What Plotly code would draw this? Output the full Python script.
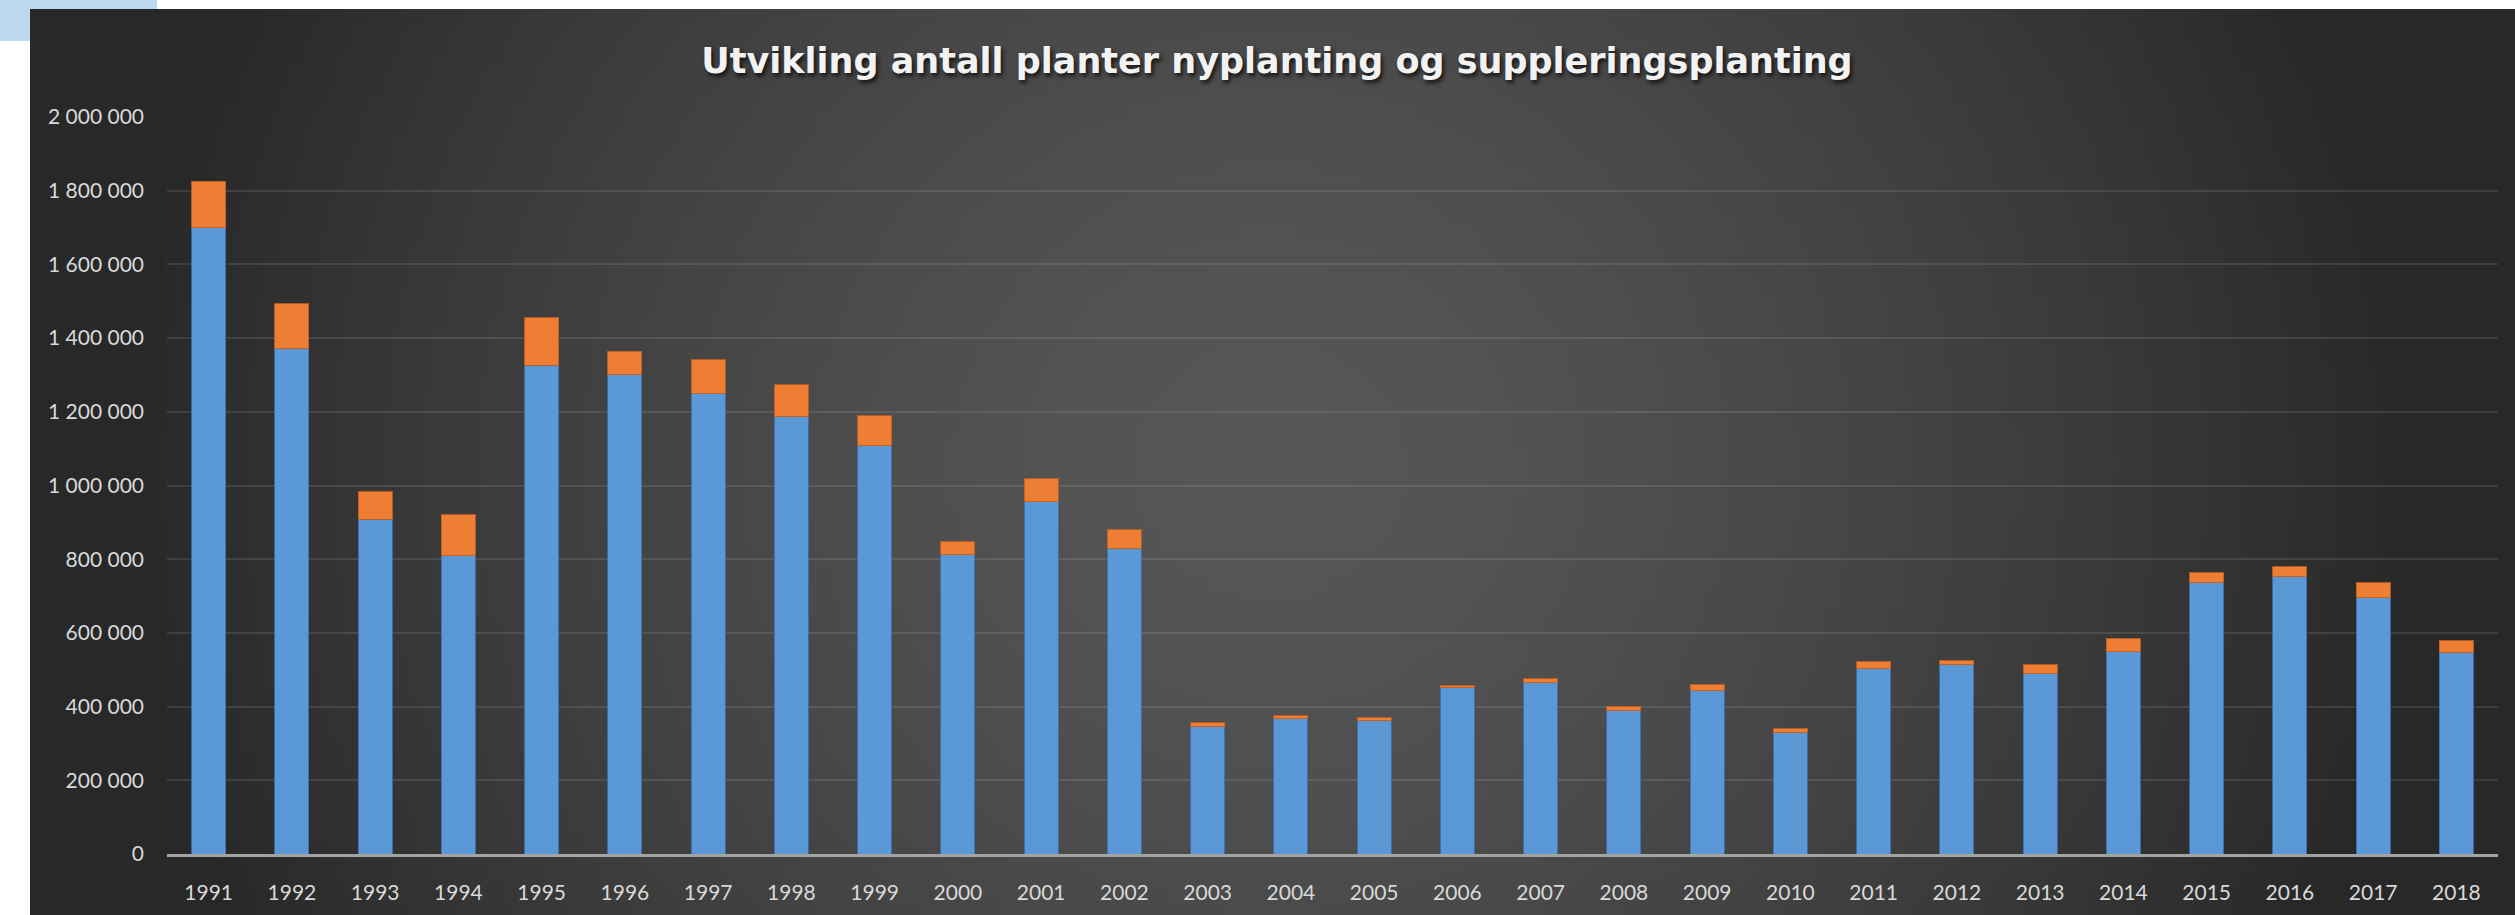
import base64
import struct
import zlib

import numpy as np
import plotly.graph_objects as go

# ---- data -------------------------------------------------------------
years = [str(y) for y in range(1991, 2019)]
nyplanting = [
    1700000, 1371000, 908000, 810000, 1327000, 1300000, 1249000, 1186000,
    1108000, 812000, 956000, 828000, 345000, 367000, 362000, 451000,
    465000, 389000, 443000, 329000, 503000, 513000, 489000, 549000,
    736000, 752000, 696000, 546000,
]
supplering = [
    126000, 122000, 75000, 110000, 128000, 65000, 92000, 87000,
    81000, 35000, 62000, 52000, 11000, 8000, 8000, 6000,
    11000, 11000, 16000, 11000, 19000, 11000, 24000, 35000,
    27000, 28000, 40000, 33000,
]
title_text = "Utvikling antall planter nyplanting og suppleringsplanting"

# ---- canvas geometry (pixels) ------------------------------------------
W, H = 2515, 915
PL, PR, PT, PB = 167, 17, 117, 61          # plot-area margins
PW, PH = W - PL - PR, H - PT - PB


def px_x(x):
    return (x - PL) / PW


def px_y(y):
    return (H - PB - y) / PH


# ---- radial gradient backdrop as an inline PNG --------------------------
def png_uri(rgb):
    h, w, _ = rgb.shape
    raw = b"".join(b"\x00" + rgb[r].tobytes() for r in range(h))

    def chunk(tag, data):
        c = struct.pack(">I", len(data)) + tag + data
        return c + struct.pack(">I", zlib.crc32(tag + data) & 0xFFFFFFFF)

    png = (b"\x89PNG\r\n\x1a\n"
           + chunk(b"IHDR", struct.pack(">IIBBBBB", w, h, 8, 2, 0, 0, 0))
           + chunk(b"IDAT", zlib.compress(raw, 9))
           + chunk(b"IEND", b""))
    return "data:image/png;base64," + base64.b64encode(png).decode()


BX0, BY0, BX1, BY1 = 30, 9, W, H            # dark chart area
gw, gh = 250, 90
xs = BX0 + (np.arange(gw) + 0.5) * (BX1 - BX0) / gw
ys = BY0 + (np.arange(gh) + 0.5) * (BY1 - BY0) / gh
gx, gy = np.meshgrid(xs, ys)
d = np.sqrt(((gx - 1270) / 1150) ** 2 + ((gy - 470) / 1100) ** 2)
f = np.clip(1 - np.clip(d, 0, 1) ** 1.5, 0, 1)
lum = 40 + (87 - 40) * f
bg = np.clip(np.stack([lum, lum, lum], axis=-1), 0, 255).astype(np.uint8)

fig = go.Figure()

fig.add_trace(go.Bar(
    x=years, y=nyplanting, name="Nyplanting",
    marker=dict(color="#5a99d6", line=dict(color="rgba(60,110,170,0.9)", width=1)),
))
fig.add_trace(go.Bar(
    x=years, y=supplering, name="Suppleringsplanting",
    marker=dict(color="#ee7e33", line=dict(color="rgba(190,95,35,0.9)", width=1)),
))

fig.update_layout(
    width=W, height=H,
    barmode="stack",
    bargap=0.59,
    showlegend=False,
    separators=", ",
    paper_bgcolor="white",
    plot_bgcolor="rgba(0,0,0,0)",
    margin=dict(l=PL, r=PR, t=PT, b=PB, pad=0),
    title=dict(
        text=title_text,
        xref="container", x=1277 / W, xanchor="center",
        yref="container", y=1 - 61 / H, yanchor="middle",
        font=dict(family="DejaVu Sans", size=35, color="#f2f2f2", weight=700,
                  shadow="2px 3px 4px rgba(0,0,0,0.75)"),
    ),
    images=[dict(
        source=png_uri(bg), xref="paper", yref="paper",
        x=px_x(BX0), y=px_y(BY0),
        sizex=px_x(BX1) - px_x(BX0), sizey=px_y(BY0) - px_y(BY1),
        xanchor="left", yanchor="top", sizing="stretch", layer="below",
    )],
    shapes=[dict(
        type="path", xref="paper", yref="paper", layer="below",
        path=("M {a},{b} L {c},{b} L {c},{d} L {e},{d} L {e},{f} L {a},{f} Z"
              .format(a=px_x(0), b=px_y(0), c=px_x(157), d=px_y(BY0),
                      e=px_x(BX0), f=px_y(41))),
        fillcolor="#bdd7ee", line=dict(width=0),
    )],
)

fig.update_xaxes(
    type="category",
    showgrid=False,
    showline=True, linecolor="#a3a3a3", linewidth=3,
    ticks="", ticklabelstandoff=18,
    tickfont=dict(family="Lato", size=21, color="#d9d9d9"),
)
fig.update_yaxes(
    range=[0, 2000000], tick0=0, dtick=200000, tickformat=",d",
    showgrid=True, gridcolor="rgba(255,255,255,0.10)", gridwidth=1.6,
    zeroline=False, showline=False,
    ticks="", ticklabelstandoff=22,
    tickfont=dict(family="Lato", size=21, color="#d9d9d9"),
)

fig.write_html("out.html")
